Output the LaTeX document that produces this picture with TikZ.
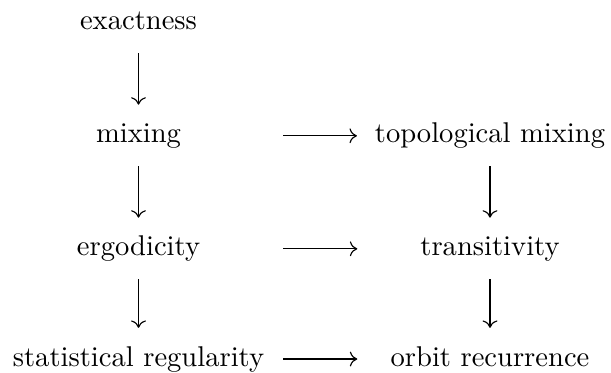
\documentclass[tikz,border=0pt]{standalone}
\usetikzlibrary{arrows.meta}
\begin{document}
\begin{tikzpicture}[x=0.35pt,y=-0.35pt,
  lbl/.style={inner sep=0pt,text height=7pt,text depth=2pt,font=\fontsize{10}{12}\selectfont},
  colA/.style={lbl,minimum width=88.3pt},
  colB/.style={lbl,minimum width=80.3pt},
  vimp/.style={line width=0.4pt,-{Computer Modern Rightarrow[length=2.6pt,width=5.2pt]},shorten <=6pt,shorten >=6.2pt},
  himp/.style={line width=0.4pt,-{Computer Modern Rightarrow[length=2.6pt,width=5.2pt]},shorten <=6.3pt,shorten >=6.1pt}]
\useasboundingbox (0,0) rectangle (611,372);
\node[colA] (exact) at (138.5,22.8) {exactness};
\node[colA] (mix) at (138.5,135.8) {mixing};
\node[colA] (ergo) at (138.5,248.8) {ergodicity};
\node[colA] (stat) at (138.5,359) {statistical regularity};
\node[colB] (topo) at (490,135.8) {topological mixing};
\node[colB] (trans) at (490,248.8) {transitivity};
\node[colB] (orbit) at (490,359) {orbit recurrence};
\draw[vimp] (exact) -- (mix);
\draw[vimp] (mix) -- (ergo);
\draw[vimp] (ergo) -- (stat);
\draw[vimp] (topo) -- (trans);
\draw[vimp] (trans) -- (orbit);
\draw[himp] (mix) -- (topo);
\draw[himp] (ergo) -- (trans);
\draw[himp] (stat) -- (orbit);
\end{tikzpicture}
\end{document}
